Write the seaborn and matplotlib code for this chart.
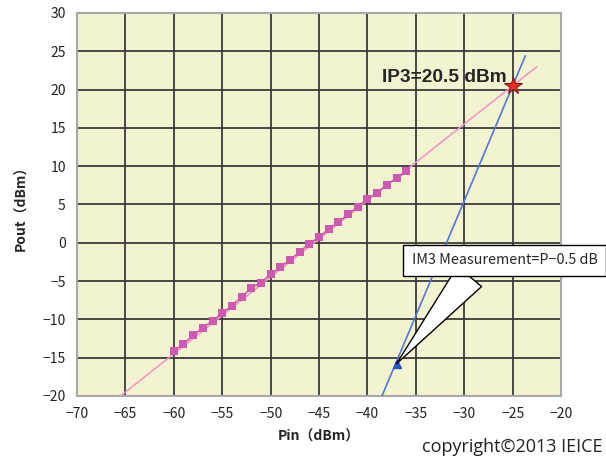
import matplotlib
matplotlib.use("Agg")
import matplotlib.pyplot as plt
import seaborn as sns
import pandas as pd

# Measured fundamental output vs input power
pin_meas = [-60, -59, -58, -57, -56, -55, -54, -53, -52, -51, -50, -49, -48,
            -47, -46, -45, -44, -43, -42, -41, -40, -39, -38, -37, -36]
pout_meas = [-14.1, -13.2, -12.1, -11.1, -10.2, -9.2, -8.2, -7.1, -5.9, -5.2,
             -4.1, -3.2, -2.2, -1.2, -0.1, 0.7, 1.8, 2.7, 3.7, 4.7, 5.7, 6.5,
             7.6, 8.4, 9.3]

# Extrapolated fundamental (slope 1) and third-order (slope 3) lines
pin_fund_line = [-65.5, -22.5]
pout_fund_line = [-20.0, 23.0]
pin_im3_line = [-38.5, -23.7]
pout_im3_line = [-20.0, 24.4]

# Third-order intercept point and IM3 measurement point
ip3_pin, ip3_pout = -25.0, 20.5
im3_pin, im3_pout = -37.0, -15.8

x_ticks = list(range(-70, -15, 5))
y_ticks = list(range(-20, 35, 5))

sns.set_style("whitegrid", {
    "axes.facecolor": "#F3F3D2",
    "axes.edgecolor": "#A8A8A8",
    "grid.color": "#3A3A3A",
})
plt.rcParams["font.family"] = ["Noto Sans CJK JP", "DejaVu Sans"]
plt.rcParams["axes.unicode_minus"] = True

fig = plt.figure(figsize=(6.06, 4.62), dpi=100)
ax = fig.add_axes([0.127, 0.143, 0.799, 0.829])

fund_df = pd.DataFrame({"Pin": pin_fund_line, "Pout": pout_fund_line})
im3_df = pd.DataFrame({"Pin": pin_im3_line, "Pout": pout_im3_line})
meas_df = pd.DataFrame({"Pin": pin_meas, "Pout": pout_meas})

sns.lineplot(data=fund_df, x="Pin", y="Pout", ax=ax, color="#F290C8",
             linewidth=1.1, zorder=3)
sns.lineplot(data=im3_df, x="Pin", y="Pout", ax=ax, color="#5478D2",
             linewidth=1.2, zorder=3)
sns.lineplot(data=meas_df, x="Pin", y="Pout", ax=ax, color="#CC5AAE",
             linewidth=1.2, marker="s", markersize=5.5, markeredgewidth=0,
             zorder=4)
ax.plot([im3_pin], [im3_pout], marker="^", color="#2A55B8", markersize=6,
        linestyle="none", zorder=5)
ax.plot([ip3_pin], [ip3_pout], marker="*", markerfacecolor="#E8302A",
        markeredgecolor="#7A1A10", markeredgewidth=0.8, markersize=13,
        linestyle="none", zorder=6)

ax.set_xlim(-70, -20)
ax.set_ylim(-20, 30)
ax.set_xticks(x_ticks)
ax.set_yticks(y_ticks)
ax.grid(True, linewidth=1.3, color="#3A3A3A")
ax.tick_params(axis="both", length=0, labelsize=10, pad=8, colors="#222222")
for s in ax.spines.values():
    s.set_linewidth(1.5)
    s.set_color("#A8A8A8")

ax.set_xlabel("Pin（dBm）", fontsize=10, fontweight="bold", labelpad=6)
ax.set_ylabel("Pout（dBm）", fontsize=10, fontweight="bold", labelpad=10)

ax.text(-25.6, 21.6, "IP3=20.5 dBm", fontsize=13.8, fontweight="bold",
        ha="right", va="center",
        family=["Liberation Sans", "DejaVu Sans"], zorder=7)

ax.annotate("IM3 Measurement=P\u22120.5 dB", xy=(im3_pin, im3_pout),
            xytext=(-35.4, -2.3), textcoords="data", fontsize=10.3,
            ha="left", va="center", zorder=8, annotation_clip=False,
            bbox=dict(boxstyle="square,pad=0.6", fc="white", ec="black",
                      lw=1.0),
            arrowprops=dict(arrowstyle="wedge,tail_width=2.2,shrink_factor=0.5",
                            fc="white", ec="black", lw=1.0,
                            relpos=(0.35, 0.0), shrinkA=0, shrinkB=0))

fig.text(0.995, 0.012, "copyright\u00a92013 IEICE", ha="right", va="bottom",
         fontsize=13, family=["Open Sans", "DejaVu Sans"], color="#222222")

fig.savefig("out.png", dpi=100)
